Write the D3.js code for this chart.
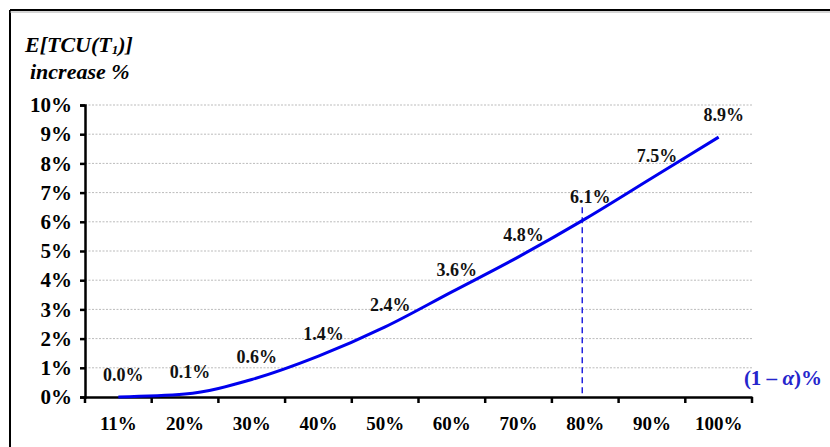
<!DOCTYPE html>
<html><head><meta charset="utf-8">
<script src="https://cdn.jsdelivr.net/npm/d3@7"></script>
<style>body{margin:0;background:#fff}svg{display:block;font-family:"Liberation Serif","Times New Roman",serif}</style>
</head><body>
<svg id="c" width="830" height="447"></svg>
<script>
const categories = ["11%","20%","30%","40%","50%","60%","70%","80%","90%","100%"];
const values = [0.0,0.1,0.6,1.4,2.4,3.6,4.8,6.1,7.5,8.9];
const labels = ["0.0%","0.1%","0.6%","1.4%","2.4%","3.6%","4.8%","6.1%","7.5%","8.9%"];
const yTicks = [0,1,2,3,4,5,6,7,8,9,10];
const refCategory = "80%";
const refTop = 6.5;

const FONT = '"Liberation Serif", "Times New Roman", serif';
const svg = d3.select("#c");
const L = 85, R = 752, T = 105, B = 397;
const x = d3.scaleBand().domain(categories).range([L, R]);
const y = d3.scaleLinear().domain([0, 10]).range([B, T]);

// frame
svg.append("line").attr("x1",10).attr("x2",830).attr("y1",10).attr("y2",10).attr("stroke","#000").attr("stroke-width",2);
svg.append("line").attr("x1",10).attr("x2",10).attr("y1",10).attr("y2",447).attr("stroke","#000").attr("stroke-width",2);
svg.append("line").attr("x1",10).attr("x2",830).attr("y1",12).attr("y2",12).attr("stroke","#aaa").attr("stroke-width",1);

// grid
svg.append("g").selectAll("line").data(yTicks.filter(d=>d>0)).join("line")
  .attr("x1",L).attr("x2",R+1).attr("y1",d=>y(d)).attr("y2",d=>y(d))
  .attr("stroke","#bbb").attr("stroke-width",1).attr("stroke-dasharray","2,1.5");

// y axis
const ya = svg.append("g").attr("transform",`translate(${L},0)`)
  .call(d3.axisLeft(y).tickValues(yTicks).tickFormat(d=>d+"%").tickSize(5).tickPadding(8));
ya.attr("font-family",FONT);
ya.select(".domain").attr("stroke","#000").attr("stroke-width",2.5);
ya.selectAll(".tick line").attr("stroke","#000").attr("stroke-width",2.5);
ya.selectAll("text").attr("font-family",FONT).attr("font-size",21).attr("font-weight","bold").attr("fill","#000");

// x axis
const xa = svg.append("g").attr("transform",`translate(0,${B})`)
  .call(d3.axisBottom(x).tickSize(0).tickPadding(20));
xa.attr("font-family",FONT);
xa.select(".domain").attr("stroke","#000").attr("stroke-width",2.5);
xa.selectAll("text").attr("font-family",FONT).attr("font-size",19).attr("font-weight","bold").attr("fill","#000");
const bounds = categories.map(c=>x(c)).concat([x(categories[categories.length-1])+x.bandwidth()]);
svg.append("g").selectAll("line").data(bounds).join("line")
  .attr("x1",d=>d).attr("x2",d=>d).attr("y1",B).attr("y2",B+6)
  .attr("stroke","#000").attr("stroke-width",2.5);

// reference dashed line
const cx = c => x(c) + x.bandwidth()/2;
svg.append("line").attr("x1",cx(refCategory)-3).attr("x2",cx(refCategory)-3)
  .attr("y1",y(refTop)).attr("y2",y(0))
  .attr("stroke","#2222dd").attr("stroke-width",1.5).attr("stroke-dasharray","6,4");

// curve
const pts = categories.map((c,i)=>[cx(c), y(values[i])]);
svg.append("path").datum(pts)
  .attr("d", d3.line().curve(d3.curveMonotoneX))
  .attr("fill","none").attr("stroke","#0000ee").attr("stroke-width",3);

// value labels
svg.append("g").selectAll("text").data(categories).join("text")
  .attr("x",(c)=>cx(c)+5).attr("y",(c,i)=>y(values[i])-16)
  .attr("text-anchor","middle").attr("font-family",FONT).attr("font-size",18).attr("font-weight","bold").attr("fill","#111")
  .text((c,i)=>labels[i]);

// titles
const t1 = svg.append("text").attr("x",25).attr("y",52).attr("font-family",FONT).attr("font-size",22).attr("font-weight","bold").attr("font-style","italic");
t1.append("tspan").text("E[TCU(T");
t1.append("tspan").attr("font-size",13).attr("dy",2).text("1");
t1.append("tspan").attr("dy",-2).text(")]");
svg.append("text").attr("x",30).attr("y",79).attr("font-family",FONT).attr("font-size",22).attr("font-weight","bold").attr("font-style","italic").text("increase %");

const xl = svg.append("text").attr("x",822).attr("y",385).attr("text-anchor","end").attr("font-family",FONT)
  .attr("font-size",21).attr("font-weight","bold").attr("fill","#2525cc");
xl.append("tspan").text("(1 – ");
xl.append("tspan").attr("font-style","italic").text("α");
xl.append("tspan").text(")%");
</script>
</body></html>
